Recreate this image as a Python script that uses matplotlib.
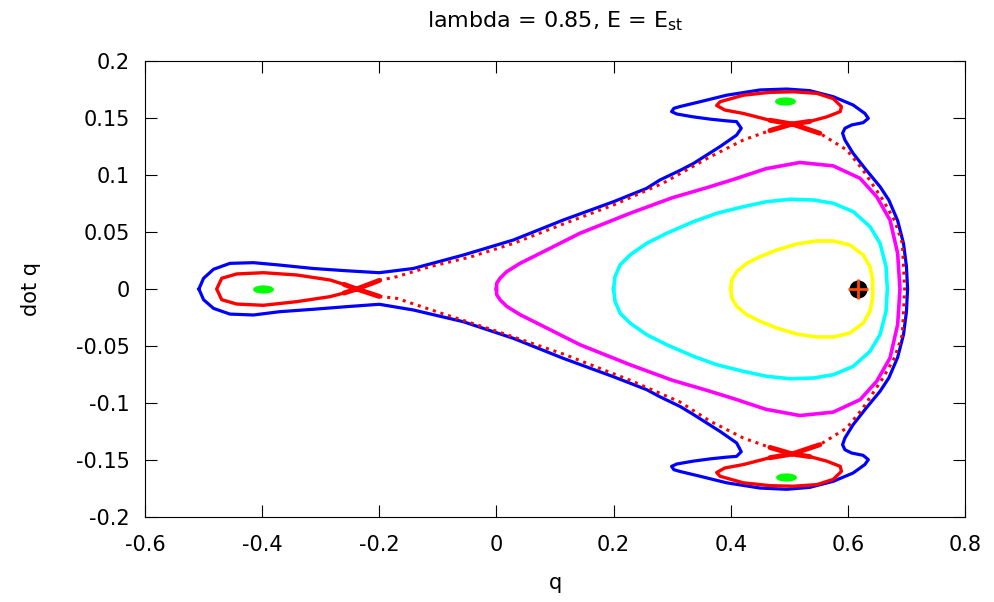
import numpy as np
import matplotlib
matplotlib.use("Agg")
import matplotlib.pyplot as plt
from matplotlib.path import Path

# curves (q, dot q)
yellow_q = [0.400, 0.4017, 0.4102, 0.4273, 0.450, 0.4785, 0.5127, 0.5468, 0.5752, 0.6037,
            0.6264, 0.6378, 0.6424, 0.6424,
            0.6424, 0.6378, 0.6264, 0.6037, 0.5752, 0.5468, 0.5127, 0.4785, 0.450, 0.4273,
            0.4102, 0.4017, 0.400]
yellow_p = [0.0, 0.0079, 0.0152, 0.0225, 0.0283, 0.0342, 0.0395, 0.0421, 0.0421, 0.0386,
            0.0298, 0.0196, 0.0079, 0.0,
            -0.0079, -0.0196, -0.0298, -0.0386, -0.0421, -0.0421, -0.0395, -0.0342, -0.0283,
            -0.0225, -0.0152, -0.0079, 0.0]

cyan_q = [0.200, 0.2025, 0.211, 0.228, 0.2566, 0.2907, 0.3362, 0.3761, 0.4215, 0.4615, 0.5013,
          0.541, 0.5752, 0.6093, 0.6378, 0.6549, 0.6652, 0.6674,
          0.6652, 0.6549, 0.6378, 0.6093, 0.5752, 0.541, 0.5013, 0.4615, 0.4215, 0.3761, 0.3362,
          0.2907, 0.2566, 0.228, 0.211, 0.2025, 0.200]
cyan_p = [0.0, 0.0108, 0.0211, 0.0298, 0.0401, 0.0489, 0.059, 0.0664, 0.0722, 0.0766, 0.0787,
          0.0781, 0.0752, 0.0678, 0.0547, 0.0401, 0.0196, 0.0,
          -0.0196, -0.0401, -0.0547, -0.0678, -0.0752, -0.0781, -0.0787, -0.0766, -0.0722,
          -0.0664, -0.059, -0.0489, -0.0401, -0.0298, -0.0211, -0.0108, 0.0]

magenta_q = [0.0, 0.0005, 0.0061, 0.0175, 0.0403, 0.0858, 0.1427, 0.228, 0.30, 0.36, 0.404,
             0.46, 0.518, 0.575, 0.6208, 0.6492, 0.672, 0.685, 0.689,
             0.685, 0.672, 0.6492, 0.6208, 0.575, 0.518, 0.46, 0.404, 0.36, 0.30, 0.228,
             0.1427, 0.0858, 0.0403, 0.0175, 0.0061, 0.0005, 0.0]
magenta_p = [0.0, 0.005, 0.0094, 0.0152, 0.0225, 0.0342, 0.0489, 0.0664, 0.080, 0.089, 0.096,
             0.1055, 0.111, 0.108, 0.0971, 0.081, 0.0605, 0.0313, 0.0,
             -0.0313, -0.0605, -0.081, -0.0971, -0.108, -0.111, -0.1055, -0.096, -0.089, -0.080,
             -0.0664, -0.0489, -0.0342, -0.0225, -0.0152, -0.0094, -0.005, 0.0]

blue_q = [-0.508, -0.500, -0.483, -0.455, -0.415, -0.370, -0.313, -0.256, -0.200, -0.142,
          -0.0565, 0.029, 0.114, 0.200, 0.2565, 0.279, 0.3134, 0.336, 0.382, 0.410, 0.418,
          0.410, 0.393, 0.365, 0.336, 0.308, 0.299, 0.303, 0.313, 0.348, 0.393, 0.450, 0.4956,
          0.535, 0.575, 0.609, 0.629, 0.635, 0.626, 0.6065, 0.595, 0.591, 0.595, 0.609, 0.632,
          0.655, 0.670, 0.685, 0.695, 0.700, 0.702,
          0.700, 0.695, 0.685, 0.670, 0.655, 0.632, 0.609, 0.595, 0.591, 0.595, 0.6065, 0.626,
          0.635, 0.629, 0.609, 0.575, 0.535, 0.4956, 0.450, 0.393, 0.348, 0.313, 0.303, 0.299,
          0.308, 0.336, 0.365, 0.393, 0.410, 0.418, 0.410, 0.382, 0.336, 0.3134, 0.279, 0.2565,
          0.200, 0.114, 0.029, -0.0565, -0.142, -0.200, -0.256, -0.313, -0.370, -0.415, -0.455,
          -0.483, -0.500, -0.508]
blue_p = [0.0, 0.0094, 0.0173, 0.0225, 0.0231, 0.021, 0.018, 0.016, 0.0143, 0.018,
          0.0298, 0.043, 0.0605, 0.0766, 0.0883, 0.0956, 0.104, 0.110, 0.125, 0.135, 0.141,
          0.1468, 0.1475, 0.149, 0.151, 0.1535, 0.1556, 0.1585, 0.160, 0.1643, 0.170, 0.1746, 0.1754,
          0.174, 0.1687, 0.1614, 0.154, 0.1497, 0.1459, 0.1439, 0.141, 0.1366, 0.1307, 0.119, 0.104,
          0.0897, 0.078, 0.060, 0.040, 0.020, 0.0,
          -0.020, -0.040, -0.060, -0.078, -0.0897, -0.104, -0.119, -0.1307, -0.1366, -0.141, -0.1439,
          -0.1459, -0.1497, -0.154, -0.1614, -0.1687, -0.174, -0.1757, -0.1746, -0.170, -0.1643,
          -0.160, -0.1585, -0.1556, -0.1535, -0.151, -0.149, -0.1475, -0.1468, -0.1427, -0.135,
          -0.125, -0.110, -0.103, -0.0945, -0.0883, -0.077, -0.0608, -0.0433, -0.0287, -0.0184,
          -0.0134, -0.0155, -0.0178, -0.0199, -0.0228, -0.022, -0.017, -0.0094, 0.0]

# red separatrix layer: islands (dense) and connecting branches (sparse)
red_left_q = [-0.2386, -0.26, -0.284, -0.341, -0.398, -0.4435, -0.469, -0.4776,
              -0.469, -0.4435, -0.398, -0.341, -0.284, -0.26, -0.2386]
red_left_p = [0.0, 0.004, 0.0079, 0.0123, 0.0143, 0.0132, 0.0094, 0.0,
              -0.0094, -0.0132, -0.0143, -0.0111, -0.0067, -0.0035, 0.0]

red_top_q = [0.505, 0.467, 0.4215, 0.39, 0.376, 0.382, 0.4215, 0.467, 0.507, 0.547,
             0.575, 0.589, 0.587, 0.564, 0.535, 0.505]
red_top_p = [0.1447, 0.148, 0.154, 0.157, 0.161, 0.1643, 0.170, 0.1725, 0.173, 0.1716,
             0.167, 0.160, 0.1556, 0.151, 0.147, 0.1447]

red_bot_q = [0.505, 0.467, 0.4215, 0.39, 0.376, 0.382, 0.4215, 0.467, 0.507, 0.547,
             0.575, 0.589, 0.587, 0.564, 0.535, 0.505]
red_bot_p = [-0.1447, -0.148, -0.154, -0.157, -0.161, -0.1643, -0.170, -0.1725, -0.173, -0.1716,
             -0.167, -0.160, -0.1556, -0.151, -0.147, -0.1447]

red_up_q = [-0.2386, -0.20, -0.17, -0.1134, -0.045, 0.029, 0.114, 0.200, 0.285, 0.365,
            0.4215, 0.467, 0.505]
red_up_p = [0.0, 0.0075, 0.0108, 0.0196, 0.028, 0.040, 0.057, 0.0737, 0.093, 0.116,
            0.1307, 0.139, 0.1447]

red_low_q = [-0.2386, -0.20, -0.17, -0.085, 0.0, 0.114, 0.228, 0.313, 0.365, 0.4215, 0.467, 0.505]
red_low_p = [0.0, -0.0065, -0.0082, -0.0228, -0.037, -0.057, -0.080, -0.099, -0.116, -0.1307,
             -0.139, -0.1447]

red_right_q = [0.505, 0.552, 0.598, 0.625, 0.660, 0.680, 0.693, 0.697,
               0.693, 0.680, 0.660, 0.625, 0.598, 0.552, 0.505]
red_right_p = [0.1447, 0.1366, 0.122, 0.105, 0.078, 0.060, 0.040, 0.0,
               -0.040, -0.060, -0.078, -0.105, -0.122, -0.1366, -0.1447]

# elliptic islands and the fixed point
green_q = [-0.398, 0.493, 0.494]
green_p = [0.0, 0.1645, -0.1645]
fixed_q = [0.617]
fixed_p = [0.0]

plt.rcParams['font.family'] = ['DejaVu Sans']
fig = plt.figure(figsize=(9.94, 6.02), dpi=100)
ax = fig.add_axes([145 / 994, 1 - 517 / 602, 820 / 994, 456 / 602])

ax.plot(yellow_q, yellow_p, color='#ffff00', lw=2.6, solid_joinstyle='round')
ax.plot(cyan_q, cyan_p, color='#00ffff', lw=2.6, solid_joinstyle='round')
ax.plot(magenta_q, magenta_p, color='#ff00ff', lw=2.6, solid_joinstyle='round')
ax.plot(blue_q, blue_p, color='#0000ff', lw=2.3, solid_joinstyle='round')

for qq, pp in [(red_left_q, red_left_p), (red_top_q, red_top_p), (red_bot_q, red_bot_p)]:
    ax.plot(qq, pp, color='#ff0000', lw=2.4, solid_joinstyle='round')
for qq, pp in [(red_up_q, red_up_p), (red_low_q, red_low_p), (red_right_q, red_right_p)]:
    ax.plot(qq, pp, color='#ff0000', lw=2.2, linestyle=(0, (1, 1.6)))
# dense, fuzzy crossings near the hyperbolic points
for qq, pp in [(red_up_q[:2], red_up_p[:2]), (red_low_q[:2], red_low_p[:2]),
               (red_up_q[-2:], red_up_p[-2:]), (red_low_q[-2:], red_low_p[-2:]),
               (red_right_q[:2], red_right_p[:2]), (red_right_q[-2:], red_right_p[-2:]),
               (red_left_q[:2], red_left_p[:2]), (red_left_q[-2:], red_left_p[-2:]),
               (red_top_q[:2], red_top_p[:2]), (red_top_q[-2:], red_top_p[-2:]),
               (red_bot_q[:2], red_bot_p[:2]), (red_bot_q[-2:], red_bot_p[-2:])]:
    ax.plot(qq, pp, color='#ff0000', lw=3.6, solid_capstyle='round')

# flattened ellipse marker for the small green islands
t = np.linspace(0, 2 * np.pi, 40)
ell = Path(np.column_stack([np.cos(t), 0.35 * np.sin(t)]), closed=True)
ax.plot(green_q, green_p, linestyle='none', marker=ell, ms=14, color='#00ff00')

ax.plot(fixed_q, fixed_p, linestyle='none', marker='o', ms=12, color='black')
ax.plot(fixed_q, fixed_p, linestyle='none', marker='+', ms=14, mew=2, color='#ff4500')

ax.set_xlim(-0.6, 0.8)
ax.set_ylim(-0.2, 0.2)
ax.set_xticks([-0.6, -0.4, -0.2, 0, 0.2, 0.4, 0.6, 0.8])
ax.set_xticklabels(['-0.6', '-0.4', '-0.2', '0', '0.2', '0.4', '0.6', '0.8'])
ax.set_yticks([-0.2, -0.15, -0.1, -0.05, 0, 0.05, 0.1, 0.15, 0.2])
ax.set_yticklabels(['-0.2', '-0.15', '-0.1', '-0.05', '0', '0.05', '0.1', '0.15', '0.2'])
ax.tick_params(direction='in', top=True, right=True, length=8.5, labelsize=15)
ax.tick_params(axis='y', pad=11)
ax.tick_params(axis='x', pad=13)
ax.set_xlabel('q', fontsize=15, labelpad=13)
ax.set_ylabel('dot q', fontsize=15, labelpad=25)
ax.set_title(r'lambda = 0.85, E = E$_{\mathregular{st}}$', fontsize=16, pad=24)

fig.savefig('out.png', dpi=100)
